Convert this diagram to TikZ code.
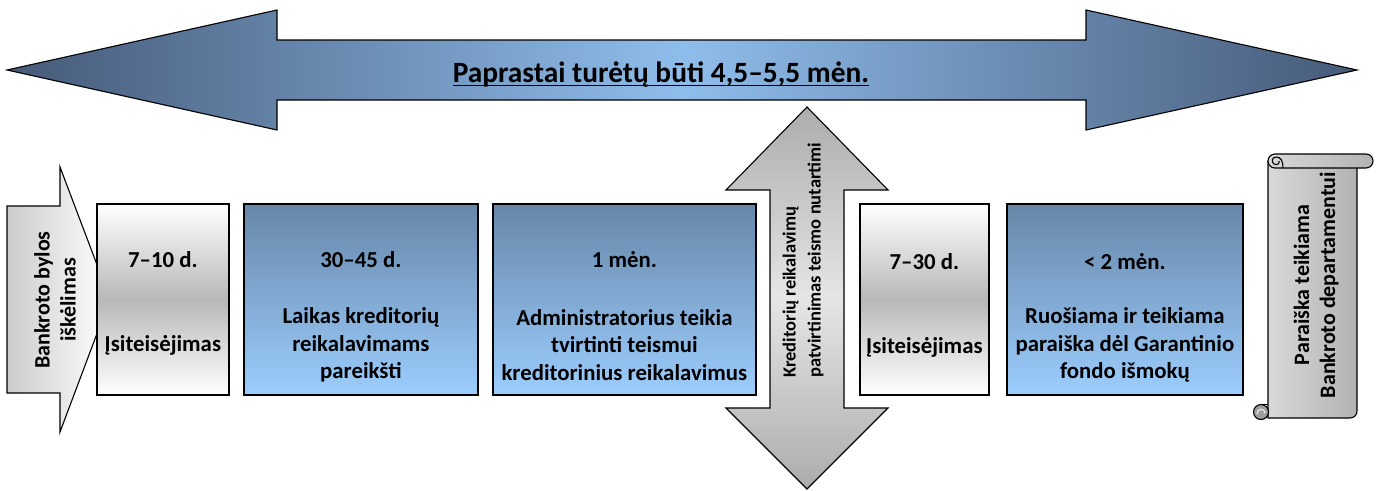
\documentclass[tikz,border=0pt]{standalone}
\usepackage{fontspec}
\setmainfont{Carlito}
\usetikzlibrary{calc}
\definecolor{arrdark}{HTML}{465A78}
\definecolor{arrlight}{HTML}{8FBDEB}
\definecolor{bluetop}{HTML}{6787A9}
\definecolor{bluebot}{HTML}{9CCDFD}
\definecolor{graymid}{HTML}{B8B8B8}
\tikzset{
 thinline/.style={draw=black, line width=1.1pt, line join=miter},
 outline/.style={draw=black, line width=1.8pt, line join=miter},
 bluebox/.style={outline, top color=bluetop, bottom color=bluebot, anchor=north west, minimum width=#1, minimum height=191pt, inner sep=0pt},
 graybox/.style={outline, top color=white, bottom color=white, middle color=graymid, anchor=north west, minimum width=#1, minimum height=191pt, inner sep=0pt},
 lbl/.style={font=\fontsize{22.8}{27.5}\selectfont\bfseries, align=center, inner sep=0pt},
 sidelbl/.style={font=\fontsize{22}{26}\selectfont\bfseries, align=center, inner sep=0pt, rotate=90},
 ttl/.style={font=\fontsize{29.4}{34}\selectfont\bfseries, inner sep=0pt, anchor=base},
}
\begin{document}
\begin{tikzpicture}[x=1pt,y=-1pt]
\useasboundingbox (0,0) rectangle (1378,490);
% big double arrow
\path[thinline, left color=arrdark, right color=arrdark, middle color=arrlight]
 (7,70) -- (277,10) -- (277,40) -- (1086,40) -- (1086,10) -- (1357,70) -- (1086,130) -- (1086,100) -- (277,100) -- (277,130) -- cycle;
\node[ttl] (title) at (661,82) {Paprastai turėtų būti 4,5–5,5 mėn.};
\draw[line width=1.8pt] ([yshift=-3.5pt]title.base west) -- ([yshift=-3.5pt]title.base east);

% start arrow
\path[thinline, left color=gray!40, right color=white]
 (7,206) -- (60,206) -- (60,167) -- (110,299) -- (60,432) -- (60,393) -- (7,393) -- cycle;
\node[sidelbl] (start) at (55,300) {Bankroto bylos\\iškėlimas};

% box 1
\node[graybox=132pt] (b1) at (96,203) {};
\node[lbl] (b1a) at ($(b1.north)+(0,57)$) {7–10 d.};
\node[lbl] (b1b) at ($(b1.north)+(0,142)$) {Įsiteisėjimas};

% box 2
\node[bluebox=234pt] (b2) at (243,203) {};
\node[lbl] (b2a) at ($(b2.north)+(0,57)$) {30–45 d.};
\node[lbl] (b2b) at ($(b2.north)+(0,142)$) {Laikas kreditorių\\reikalavimams\\pareikšti};

% box 3
\node[bluebox=263pt] (b3) at (492,203) {};
\node[lbl] (b3a) at ($(b3.north)+(0,57)$) {1 mėn.};
\node[lbl] (b3b) at ($(b3.north)+(0,142)$) {Administratorius teikia\\tvirtinti teismui\\kreditorinius reikalavimus};

% vertical double arrow
\path[thinline, top color=gray!65, bottom color=gray!65, middle color=gray!20]
 (807,107) -- (888,190) -- (844,190) -- (844,408) -- (888,408) -- (807,489) -- (726,408) -- (770,408) -- (770,190) -- (726,190) -- cycle;
\node[font=\fontsize{18.5}{25}\selectfont\bfseries, inner sep=0pt, rotate=90, align=left, anchor=west] (court) at (803,378) {Kreditorių reikalavimų\\patvirtinimas teismo nutartimi};

% box 4
\node[graybox=129pt] (b4) at (859,203) {};
\node[lbl] (b4a) at ($(b4.north)+(0,59)$) {7–30 d.};
\node[lbl] (b4b) at ($(b4.north)+(0,144)$) {Įsiteisėjimas};

% box 5
\node[bluebox=236pt] (b5) at (1006,203) {};
\node[lbl] (b5a) at ($(b5.north)+(0,59)$) {< 2 mėn.};
\node[lbl] (b5b) at ($(b5.north)+(0,142)$) {Ruošiama ir teikiama\\paraiška dėl Garantinio\\fondo išmokų};

% scroll
\path[thinline, left color=gray!30, middle color=white, right color=gray!60]
 (1268,161) -- (1268,418) -- (1350,418) .. controls (1354,418) and (1357,415) .. (1357,411) -- (1357,161) -- cycle;
\path[thinline, left color=gray!30, middle color=white, right color=gray!60, rounded corners=7pt]
 (1268,154) rectangle (1373,168);
\draw[line width=1.1pt] (1283,168) .. controls (1283,161) and (1281,157) .. (1276,157) .. controls (1272,157) and (1271,162) .. (1274,164) .. controls (1277,166) and (1280,163) .. (1279,161);
\path[thinline, fill=gray!75] (1261,412) circle (7.5pt);
\draw[line width=1.2pt, white!85!gray] (1257,414) .. controls (1257,408) and (1265,408) .. (1265,413);
\draw[line width=1.1pt] (1261,404.5) -- (1268,404.5);
\node[sidelbl] (scroll) at (1316,285) {Paraiška teikiama\\Bankroto departamentui};
\end{tikzpicture}
\end{document}
